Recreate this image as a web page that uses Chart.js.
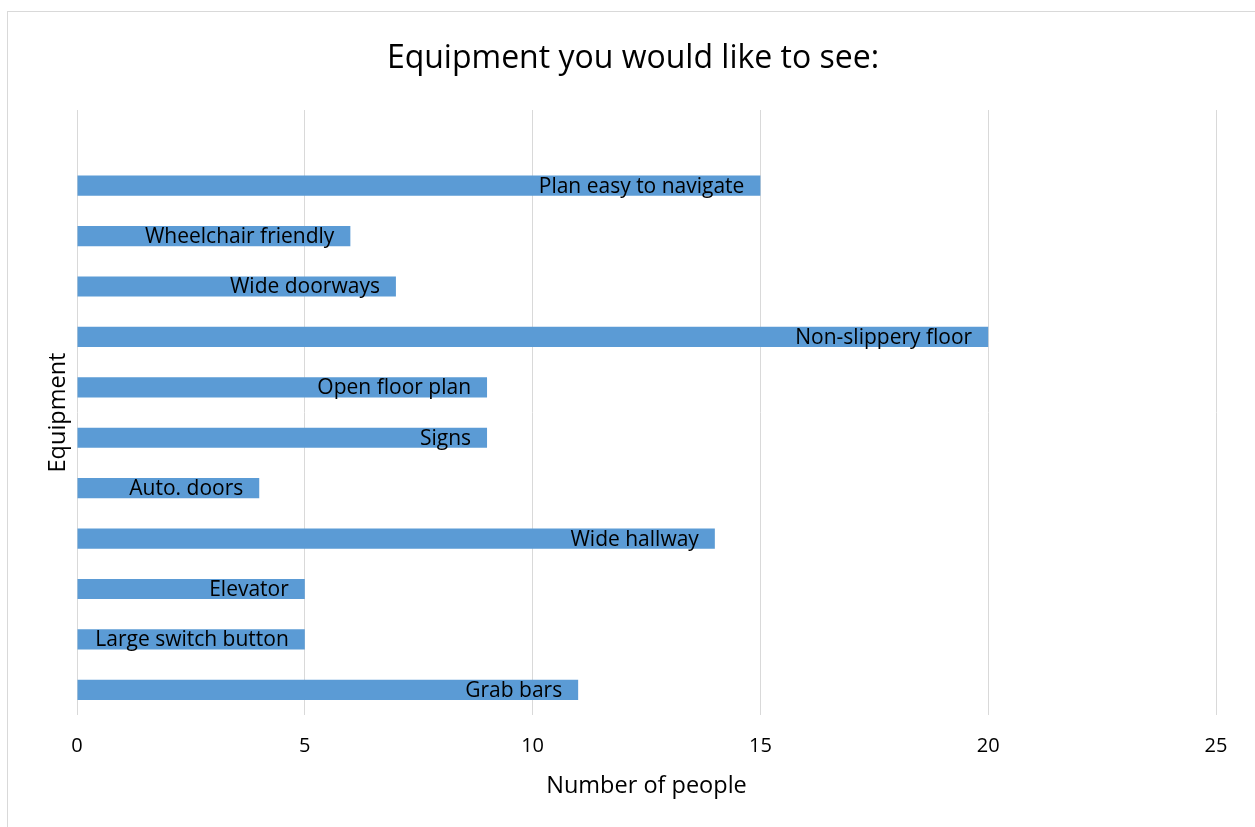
<!DOCTYPE html>
<html>
<head>
  <meta charset="utf-8">
  <title>Equipment chart</title>
  <script src="https://cdn.jsdelivr.net/npm/chart.js@4.4.1/dist/chart.umd.min.js"></script>
  <style>
    html, body { margin: 0; padding: 0; background: #fff; overflow: hidden; }
    #frame {
      position: absolute; left: 7px; top: 11px;
      width: 1252px; height: 830px;
      border: 1px solid #d9d9d9; box-sizing: border-box;
    }
    #chart { position: absolute; left: -1px; top: -1px; }
  </style>
</head>
<body>
  <div id="frame">
    <canvas id="chart" width="1252" height="816"></canvas>
  </div>
  <script>
    // top row is a blank category, as in the sheet
    var equipment = ['', 'Plan easy to navigate', 'Wheelchair friendly', 'Wide doorways',
      'Non-slippery floor', 'Open floor plan', 'Signs', 'Auto. doors', 'Wide hallway',
      'Elevator', 'Large switch button', 'Grab bars'];
    var people = [null, 15, 6, 7, 20, 9, 9, 4, 14, 5, 5, 11];
    var xTicks = [0, 5, 10, 15, 20, 25];

    var FONT = '"Open Sans"';
    Chart.defaults.font.family = FONT;
    Chart.defaults.color = '#000';

    // category name drawn inside the end of each bar
    var barLabels = {
      id: 'barLabels',
      afterDatasetsDraw: function (chart) {
        var ctx = chart.ctx;
        var meta = chart.getDatasetMeta(0);
        ctx.save();
        ctx.font = '21px ' + FONT;
        ctx.fillStyle = '#000';
        ctx.textAlign = 'right';
        ctx.textBaseline = 'middle';
        meta.data.forEach(function (bar, i) {
          if (people[i] == null) return;
          ctx.fillText(equipment[i], bar.x - 16, bar.y + 1);
        });
        ctx.restore();
      }
    };

    // center the title across the whole canvas, not the padded area
    var wideTitle = {
      id: 'wideTitle',
      afterLayout: function (chart) {
        var t = chart.titleBlock;
        if (!t) return;
        t.left = 0;
        t.right = chart.width;
        t.width = chart.width;
      }
    };

    new Chart(document.getElementById('chart'), {
      type: 'bar',
      data: {
        labels: equipment,
        datasets: [{
          data: people,
          backgroundColor: '#5b9bd5',
          categoryPercentage: 1,
          barPercentage: 0.4
        }]
      },
      plugins: [barLabels, wideTitle],
      options: {
        indexAxis: 'y',
        responsive: false,
        animation: false,
        layout: { padding: { left: 0, right: 43, top: 0, bottom: 0 } },
        plugins: {
          legend: { display: false },
          tooltip: { enabled: false },
          title: {
            display: true,
            text: 'Equipment you would like to see:',
            font: { size: 32, weight: 'normal' },
            color: '#000',
            padding: { top: 29, bottom: 31.6 }
          }
        },
        scales: {
          x: {
            min: 0, max: 25,
            afterBuildTicks: function (axis) {
              axis.ticks = xTicks.map(function (v) { return { value: v }; });
            },
            afterFit: function (axis) { axis.height = 112; },
            grid: { color: '#d9d9d9', drawTicks: false },
            border: { display: false },
            ticks: { font: { size: 20 }, padding: 19, color: '#000' },
            title: {
              display: true, text: 'Number of people',
              font: { size: 23.5 }, color: '#000',
              padding: { top: 10, bottom: 27 }
            }
          },
          y: {
            afterFit: function (axis) { axis.width = 70; },
            grid: { display: false },
            border: { display: false },
            ticks: { display: false },
            title: {
              display: true, text: 'Equipment',
              font: { size: 23.5 }, color: '#000',
              padding: { top: 37, bottom: 7 }
            }
          }
        }
      }
    });
  </script>
</body>
</html>
